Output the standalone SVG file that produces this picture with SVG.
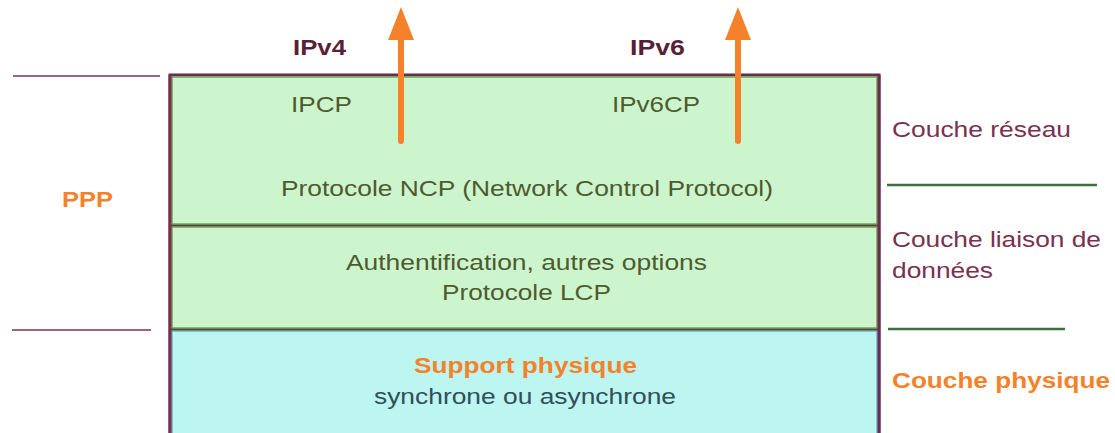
<svg xmlns="http://www.w3.org/2000/svg" width="1115" height="433" viewBox="0 0 1115 433">
<defs>
<style>
text{font-family:"Liberation Sans",Arial,sans-serif;font-size:22px}
.b{font-weight:bold}
.or{fill:#f5822a}
.ol{fill:#4e5a30}
.mr{fill:#7a3050}
.dk{fill:#5a1f38}
.tl{fill:#2f4f5a}
.arr{stroke:#f5822a;stroke-width:6;stroke-linecap:round;fill:none}
</style>
</defs>
<rect width="1115" height="433" fill="#ffffff"/>
<g id="stack">
<rect x="170" y="75" width="709" height="362" fill="none" stroke="#6b2d4f" stroke-width="3"/>
<rect id="ncp-box" x="172" y="77" width="705" height="147" fill="#cdf5cd" stroke="#6aa85a" stroke-width="1.5"/>
<rect id="lcp-box" x="172" y="227" width="705" height="101" fill="#cdf5cd" stroke="#6aa85a" stroke-width="1.5"/>
<rect id="phys-box" x="172" y="331" width="705" height="104" fill="#bdf5f0" stroke="#5ac0c0" stroke-width="1.5"/>
<line x1="170" y1="225.5" x2="879" y2="225.5" stroke="#5a4a3a" stroke-width="2"/>
<line x1="170" y1="329.5" x2="879" y2="329.5" stroke="#5a4a3a" stroke-width="2"/>
<line x1="170" y1="75" x2="170" y2="433" stroke="#7a2f4f" stroke-width="3"/>
<line x1="879" y1="75" x2="879" y2="433" stroke="#6b2d4f" stroke-width="3"/>
</g>
<g id="ncp">
<text x="291" y="112" class="ol" textLength="61" lengthAdjust="spacingAndGlyphs">IPCP</text>
<text x="612" y="112" class="ol" textLength="88" lengthAdjust="spacingAndGlyphs">IPv6CP</text>
<text x="281" y="196" class="ol" textLength="492" lengthAdjust="spacingAndGlyphs">Protocole NCP (Network Control Protocol)</text>
</g>
<g id="lcp">
<text x="346" y="270" class="ol" textLength="361" lengthAdjust="spacingAndGlyphs">Authentification, autres options</text>
<text x="442" y="300" class="ol" textLength="169" lengthAdjust="spacingAndGlyphs">Protocole LCP</text>
</g>
<g id="phys">
<text x="414" y="373" class="b or" textLength="223" lengthAdjust="spacingAndGlyphs">Support physique</text>
<text x="374" y="404" class="tl" textLength="302" lengthAdjust="spacingAndGlyphs">synchrone ou asynchrone</text>
</g>
<g id="ipv4">
<text x="293" y="55" class="b dk" textLength="53" lengthAdjust="spacingAndGlyphs">IPv4</text>
</g>
<g id="ipv6">
<text x="630" y="55" class="b dk" textLength="55" lengthAdjust="spacingAndGlyphs">IPv6</text>
</g>
<g id="ppp">
<text x="62" y="207" class="b or" textLength="51" lengthAdjust="spacingAndGlyphs">PPP</text>
</g>
<g id="labels">
<text x="892" y="137" class="mr" textLength="179" lengthAdjust="spacingAndGlyphs">Couche réseau</text>
<text x="892" y="247" class="mr" textLength="209" lengthAdjust="spacingAndGlyphs">Couche liaison de</text>
<text x="892" y="278" class="mr" textLength="101" lengthAdjust="spacingAndGlyphs">données</text>
<text x="892" y="388" class="b or" textLength="218" lengthAdjust="spacingAndGlyphs">Couche physique</text>
</g>
<g id="connectors">
<line x1="13" y1="76" x2="160" y2="76" stroke="#a0608a" stroke-width="2"/>
<line x1="12" y1="330" x2="151" y2="330" stroke="#a0608a" stroke-width="2"/>
<line x1="887" y1="185" x2="1097" y2="185" stroke="#3d6e3d" stroke-width="2.5"/>
<line x1="888" y1="329" x2="1065" y2="329" stroke="#3d6e3d" stroke-width="2.5"/>
<line class="arr" x1="401" y1="141" x2="401" y2="30"/>
<polygon points="401,7 388,40 414,40" fill="#f5822a"/>
<line class="arr" x1="738" y1="141" x2="738" y2="30"/>
<polygon points="738,7 725,40 751,40" fill="#f5822a"/>
</g>
</svg>
